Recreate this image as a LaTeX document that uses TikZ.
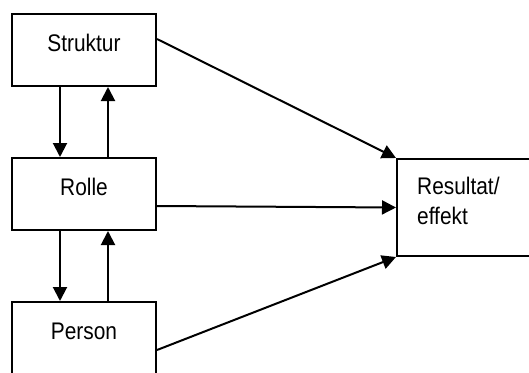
\documentclass[tikz,border=0pt]{standalone}
\usepackage{fontspec}
\setmainfont[FakeStretch=0.87]{Liberation Sans}
\usetikzlibrary{arrows.meta}
\begin{document}
\begin{tikzpicture}[x=1pt,y=-1pt,
  every node/.style={font=\fontsize{24}{29.5}\selectfont},
  box/.style={draw=black, line width=2pt, fill=white, rectangle,
    minimum width=144pt, minimum height=72pt, inner sep=0pt,
    text height=10pt, text depth=8pt},
  flow/.style={line width=2pt, -{Triangle[length=14pt,width=14pt]}}]
\useasboundingbox (0,0) rectangle (529,372);
\fill[white] (0,0) rectangle (529,372);

% the three stacked levels
\node[box] (s) at (84,50) {Struktur};
\node[box] (r) at (84,194) {Rolle};
\node[box] (p) at (84,338) {Person};

% outcome box, its right side runs past the edge
\node[draw=black, line width=2pt, rectangle, anchor=north west,
  minimum width=144pt, minimum height=97pt] (res) at (396,158) {};
\node[anchor=base west, align=left, inner sep=0pt] (restext)
  at ([xshift=21pt,yshift=-66pt]res.north west) {Resultat/\\effekt};

% two-way links between the levels
\draw[flow] ([xshift=-24pt]s.south) -- ([xshift=-24pt]r.north);
\draw[flow] ([xshift=24pt]r.north) -- ([xshift=24pt]s.south);
\draw[flow] ([xshift=-24pt]r.south) -- ([xshift=-24pt]p.north);
\draw[flow] ([xshift=24pt]p.north) -- ([xshift=24pt]r.south);

% every level feeds the outcome
\draw[flow] ([yshift=11pt]s.east) -- (res.north west);
\draw[flow] ([yshift=-12pt]r.east) -- (res.west);
\draw[flow] ([yshift=-12pt]p.east) -- (res.south west);
\end{tikzpicture}
\end{document}
